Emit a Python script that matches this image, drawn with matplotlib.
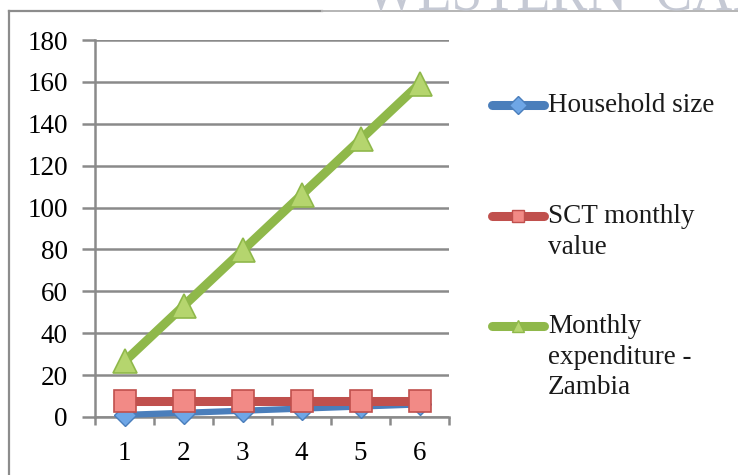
import matplotlib
matplotlib.use("Agg")
import matplotlib.pyplot as plt
from matplotlib.lines import Line2D

# Data
categories = [1, 2, 3, 4, 5, 6]
household_size = [1, 2, 3, 4, 5, 6]
sct_monthly_value = [7.5, 7.5, 7.5, 7.5, 7.5, 7.5]
monthly_expenditure = [26.5, 53, 79.5, 106, 132.5, 159]
series_labels = ["Household size", "SCT monthly\nvalue", "Monthly\nexpenditure -\nZambia"]
y_ticks = [0, 20, 40, 60, 80, 100, 120, 140, 160, 180]

FONT = "Liberation Serif"
GRID = "#8a8a8a"
FS = 19.5

fig = plt.figure(figsize=(7.38, 4.75), dpi=100)
fig.patch.set_facecolor("white")

# Faint heading text at the top edge
fig.text(365 / 738, 1 + 30 / 475, "WESTERN  CAPE", fontsize=40, family=FONT, color="#c5c9d4",
         ha="left", va="top")

# Outer frame (top and left edges)
fig.add_artist(Line2D([9 / 738, 9 / 738], [0, 1 - 11 / 475], color="#8c8c8c", lw=1.6))
fig.add_artist(Line2D([9 / 738, 322 / 738], [1 - 11 / 475, 1 - 11 / 475], color="#8c8c8c", lw=1.6))
fig.add_artist(Line2D([322 / 738, 1], [1 - 11 / 475, 1 - 11 / 475], color="#b5b5b5", lw=1.4))

ax = fig.add_axes([95 / 738, 1 - 417 / 475, (449 - 95) / 738, (417 - 40) / 475])
ax.set_xlim(0.5, 6.5)
ax.set_ylim(0, 180)

for s in ["top", "right"]:
    ax.spines[s].set_visible(False)
for s in ["left", "bottom"]:
    ax.spines[s].set_color(GRID)
    ax.spines[s].set_linewidth(1.8)

ax.set_yticks(y_ticks)
ax.set_yticklabels([str(v) for v in y_ticks], family=FONT, fontsize=FS)
ax.yaxis.grid(True, color=GRID, linewidth=1.8)
ax.set_axisbelow(True)
ax.tick_params(axis="y", direction="out", length=9.5, width=1.8, color=GRID, pad=10)

ax.set_xticks([c - 0.5 for c in categories] + [categories[-1] + 0.5])
ax.set_xticklabels([])
ax.tick_params(axis="x", which="major", direction="out", length=6, width=1.8, color=GRID)
ax.set_xticks(categories, minor=True)
ax.set_xticklabels([str(c) for c in categories], minor=True, family=FONT, fontsize=FS)
ax.tick_params(axis="x", which="minor", length=0, pad=17)

styles = [
    dict(color="#4a7ebb", lw=4.5, marker="D", ms=11, mfc="#6ea6e6", mec="#4a7ebb", mew=1.0),
    dict(color="#c0504d", lw=6.5, marker="s", ms=16, mfc="#f28a86", mec="#c0504d", mew=1.2),
    dict(color="#8fb84a", lw=6.5, marker="^", ms=17, mfc="#b5d56e", mec="#8fb84a", mew=1.2),
]
series = [household_size, sct_monthly_value, monthly_expenditure]
for vals, st in zip(series, styles):
    ax.plot(categories, vals, clip_on=False, solid_capstyle="round", zorder=3, **st)

# Legend drawn beside the plot area
legend_y = [105, 216, 326]
for lab, st, yy in zip(series_labels, styles, legend_y):
    yf = 1 - yy / 475
    fig.add_artist(Line2D([492 / 738, 544 / 738], [yf, yf], color=st["color"],
                          lw=6.5, solid_capstyle="round"))
    fig.add_artist(Line2D([518 / 738], [yf], marker=st["marker"], ms=9,
                          mfc=st["mfc"], mec=st["mec"], mew=1.0, lw=0))
    fig.text(548 / 738, yf + 12 / 475, lab, family=FONT, fontsize=FS, ha="left", va="top",
             linespacing=1.3, color="#1a1a1a")

fig.savefig("out.png", dpi=100)
